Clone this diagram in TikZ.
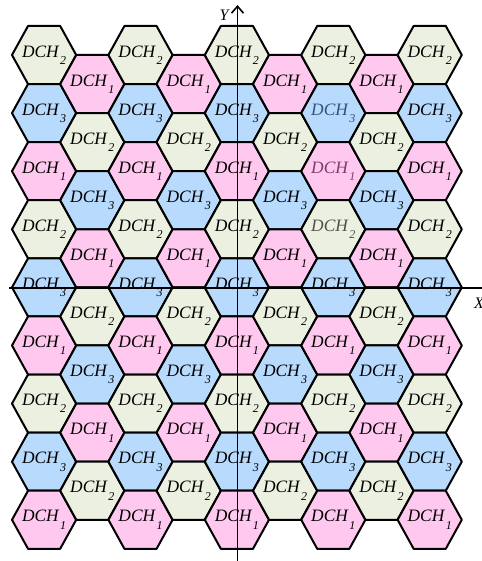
\documentclass[tikz,border=0pt]{standalone}
\usepackage{fontspec}
\setmainfont{Liberation Serif}
\usetikzlibrary{arrows.meta}

\definecolor{ch1}{RGB}{255,200,238}
\definecolor{ch2}{RGB}{235,240,224}
\definecolor{ch3}{RGB}{184,218,252}
\definecolor{lblblue}{RGB}{54,80,122}
\definecolor{lblpurple}{RGB}{122,61,110}
\definecolor{lblgrey}{RGB}{80,80,72}

\newcommand{\dch}[1]{\textit{DCH}\kern0.3pt\raisebox{-3.6pt}{\fontsize{6}{6}\selectfont\itshape #1}}

\begin{document}
\begin{tikzpicture}[x=0.5pt,y=0.5pt]
\tikzset{
  hexcell/.style={draw=black,line width=1pt,line join=round},
  chlabel/.style={inner sep=0pt,font=\fontsize{8.7}{10}\selectfont},
  axislabel/.style={inner sep=0pt,font=\fontsize{8}{9}\selectfont\itshape},
  axis/.style={line width=0.8pt,-{Straight Barb[length=3.5pt,width=6pt]}}
}
\useasboundingbox (0,0) rectangle (481,561);

% cells: column i, half-row k (odd columns shifted down by half a cell)
\foreach \i in {0,...,8}{
  \pgfmathtruncatemacro{\shift}{mod(\i,2)}
  \pgfmathtruncatemacro{\last}{8-\shift}
  \foreach \r in {0,...,\last}{
    \pgfmathtruncatemacro{\k}{2*\r+\shift}
    \pgfmathsetmacro{\cx}{44.1+48.2*\i}
    \pgfmathsetmacro{\cy}{506-29.05*\k}
    \pgfmathtruncatemacro{\ch}{mod(\k,3)==0 ? 2 : (mod(\k,3)==1 ? 1 : 3)}
    \filldraw[hexcell,fill=ch\ch] (\cx-32.1,\cy) -- ++(16.05,29.05) -- ++(32.1,0)
      -- ++(16.05,-29.05) -- ++(-16.05,-29.05) -- ++(-32.1,0) -- cycle;
    \pgfmathtruncatemacro{\faded}{(\i==6)&&(\k>1)&&(\k<7)}
    \ifnum\faded=0
      \node[chlabel] (c-\i-\k) at (\cx,\cy) {\dch{\ch}};
    \fi
  }
}

% the three labels printed in colour
\node[chlabel,text=lblblue] (c-6-2) at (333.3,447.9) {\dch{3}};
\node[chlabel,text=lblpurple] (c-6-4) at (333.3,389.8) {\dch{1}};
\node[chlabel,text=lblgrey] (c-6-6) at (333.3,331.7) {\dch{2}};

% axes
\coordinate (ybot) at (237.5,0);
\coordinate (ytop) at (237.5,556);
\coordinate (xleft) at (9,273);
\coordinate (xright) at (492,273);
\draw[axis] (ybot) -- (ytop);
\draw[axis] (xleft) -- (xright);
\node[axislabel] (ylabel) at (224,546) {Y};
\node[axislabel] (xlabel) at (479,258) {X};
\end{tikzpicture}
\end{document}
